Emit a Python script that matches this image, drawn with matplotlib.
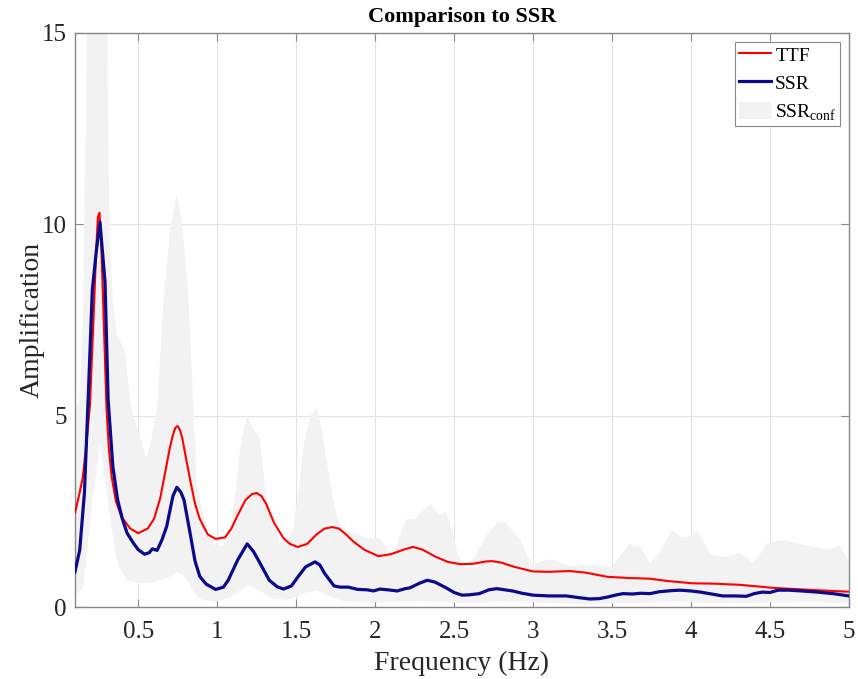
import numpy as np
import matplotlib.pyplot as plt
from matplotlib.patches import Patch

plt.rcParams['font.family'] = ['Liberation Serif', 'DejaVu Serif']
plt.rcParams['mathtext.fontset'] = 'custom'
plt.rcParams['mathtext.rm'] = 'Liberation Serif'

# TTF curve
ttf_f = [0.10, 0.13, 0.15, 0.18, 0.195, 0.22, 0.235, 0.245, 0.255, 0.265, 0.278, 0.30,
         0.315, 0.332, 0.36, 0.395, 0.45, 0.50, 0.56, 0.60, 0.64, 0.67, 0.70, 0.72,
         0.735, 0.75, 0.765, 0.78, 0.80, 0.83, 0.86, 0.89, 0.94, 0.99, 1.05, 1.09,
         1.13, 1.18, 1.22, 1.25, 1.28, 1.31, 1.36, 1.42, 1.46, 1.51, 1.57, 1.63,
         1.68, 1.73, 1.77, 1.81, 1.86, 1.93, 2.02, 2.10, 2.18, 2.24, 2.30, 2.38,
         2.46, 2.54, 2.62, 2.70, 2.74, 2.80, 2.88, 3.00, 3.10, 3.23, 3.33, 3.47,
         3.60, 3.74, 3.85, 4.01, 4.15, 4.31, 4.52, 4.75, 5.00]
ttf_a = [2.46, 3.0, 3.4, 4.6, 5.3, 7.8, 9.4, 10.2, 10.3, 9.6, 8.0, 5.15,
         4.1, 3.4, 2.75, 2.35, 2.05, 1.93, 2.05, 2.3, 2.85, 3.5, 4.15, 4.5,
         4.68, 4.73, 4.62, 4.4, 3.95, 3.3, 2.7, 2.3, 1.9, 1.78, 1.82, 2.05,
         2.4, 2.8, 2.95, 2.98, 2.9, 2.7, 2.2, 1.8, 1.65, 1.57, 1.65, 1.9,
         2.05, 2.09, 2.05, 1.92, 1.72, 1.5, 1.33, 1.38, 1.5, 1.57, 1.5, 1.32,
         1.18, 1.12, 1.13, 1.19, 1.2, 1.16, 1.05, 0.93, 0.92, 0.94, 0.9, 0.79,
         0.76, 0.74, 0.68, 0.62, 0.61, 0.58, 0.50, 0.45, 0.40]

# SSR curve
ssr_f = [0.10, 0.13, 0.16, 0.183, 0.21, 0.235, 0.258, 0.29, 0.31, 0.34, 0.37, 0.40,
         0.43, 0.47, 0.50, 0.54, 0.57, 0.59, 0.62, 0.65, 0.68, 0.72, 0.745, 0.77,
         0.79, 0.83, 0.86, 0.89, 0.93, 0.99, 1.04, 1.07, 1.13, 1.19, 1.23, 1.26,
         1.33, 1.38, 1.42, 1.47, 1.51, 1.56, 1.62, 1.65, 1.68, 1.74, 1.78, 1.83,
         1.89, 1.95, 1.99, 2.03, 2.08, 2.14, 2.19, 2.22, 2.28, 2.33, 2.38, 2.45,
         2.50, 2.55, 2.60, 2.66, 2.72, 2.77, 2.82, 2.87, 2.93, 3.00, 3.10, 3.21,
         3.30, 3.36, 3.42, 3.47, 3.53, 3.57, 3.63, 3.68, 3.74, 3.80, 3.88, 3.93,
         4.00, 4.06, 4.13, 4.20, 4.28, 4.35, 4.40, 4.45, 4.50, 4.55, 4.62, 4.70,
         4.80, 4.90, 5.00]
ssr_a = [0.92, 1.49, 3.0, 5.4, 8.3, 9.3, 10.06, 8.5, 5.4, 3.66, 2.8, 2.3,
         1.93, 1.67, 1.5, 1.38, 1.42, 1.52, 1.48, 1.75, 2.1, 2.9, 3.13, 3.0,
         2.8, 1.9, 1.2, 0.8, 0.6, 0.46, 0.52, 0.7, 1.23, 1.65, 1.45, 1.23,
         0.7, 0.53, 0.47, 0.55, 0.78, 1.05, 1.18, 1.1, 0.88, 0.55, 0.52, 0.52,
         0.46, 0.45, 0.42, 0.47, 0.45, 0.42, 0.48, 0.5, 0.62, 0.7, 0.65, 0.5,
         0.38, 0.31, 0.32, 0.35, 0.45, 0.48, 0.45, 0.42, 0.36, 0.31, 0.29, 0.29,
         0.24, 0.21, 0.22, 0.26, 0.32, 0.35, 0.34, 0.36, 0.35, 0.40, 0.43, 0.44,
         0.42, 0.39, 0.34, 0.29, 0.29, 0.28, 0.35, 0.39, 0.38, 0.44, 0.44, 0.42,
         0.39, 0.35, 0.29]

# SSR confidence band, upper edge
up_f = [0.10, 0.13, 0.15, 0.17, 0.18, 0.30, 0.32, 0.34, 0.36, 0.385, 0.42, 0.45,
        0.50, 0.55, 0.58, 0.62, 0.66, 0.70, 0.745, 0.78, 0.80, 0.82, 0.85, 0.87,
        0.91, 0.95, 0.99, 1.04, 1.08, 1.12, 1.15, 1.19, 1.22, 1.27, 1.31, 1.35,
        1.40, 1.44, 1.48, 1.52, 1.55, 1.59, 1.63, 1.66, 1.69, 1.73, 1.77, 1.82,
        1.88, 1.95, 2.03, 2.11, 2.16, 2.20, 2.25, 2.30, 2.35, 2.41, 2.45, 2.49,
        2.52, 2.58, 2.64, 2.71, 2.77, 2.81, 2.87, 2.92, 2.97, 3.00, 3.06, 3.12,
        3.18, 3.25, 3.31, 3.38, 3.44, 3.50, 3.56, 3.61, 3.65, 3.68, 3.74, 3.80,
        3.85, 3.88, 3.93, 3.97, 4.04, 4.08, 4.12, 4.20, 4.31, 4.35, 4.39, 4.44,
        4.48, 4.58, 4.64, 4.69, 4.75, 4.80, 4.87, 4.94, 5.00]
up_a = [5.0, 5.5, 7.5, 13.0, 16.0, 16.0, 9.5, 8.0, 7.2, 7.0, 6.6, 5.3,
        4.6, 3.9, 4.3, 5.2, 8.0, 9.8, 10.8, 10.0, 9.0, 7.9, 5.2, 3.2,
        2.4, 1.9, 1.6, 1.6, 2.0, 3.1, 4.3, 5.0, 4.7, 4.4, 2.9, 2.2,
        1.7, 1.7, 2.0, 3.2, 4.3, 5.0, 5.2, 4.7, 3.9, 2.9, 2.2, 2.0,
        1.9, 1.8, 1.8, 1.3, 1.9, 2.3, 2.3, 2.5, 2.7, 2.4, 2.5, 2.0,
        1.4, 1.0, 1.4, 1.9, 2.2, 2.25, 2.0, 1.75, 1.3, 1.1, 1.2, 1.25,
        1.15, 1.05, 1.1, 1.1, 1.05, 1.05, 1.4, 1.65, 1.6, 1.57, 1.15, 1.4,
        1.8, 2.0, 1.85, 1.8, 2.0, 1.7, 1.4, 1.3, 1.4, 1.3, 1.15, 1.4,
        1.67, 1.75, 1.7, 1.65, 1.6, 1.55, 1.5, 1.6, 1.2]

# SSR confidence band, lower edge
lo_f = [0.10, 0.15, 0.18, 0.20, 0.26, 0.30, 0.32, 0.36, 0.38, 0.43, 0.50, 0.60,
        0.70, 0.74, 0.78, 0.81, 0.85, 0.90, 0.99, 1.08, 1.15, 1.20, 1.26, 1.33,
        1.44, 1.55, 1.63, 1.70, 1.80, 1.88, 2.00, 2.30, 2.60, 2.80, 3.00, 3.30,
        3.60, 3.90, 4.20, 4.50, 4.80, 5.00]
lo_a = [0.3, 0.5, 1.5, 2.5, 4.3, 3.0, 2.4, 1.3, 1.05, 0.7, 0.62, 0.65,
        0.78, 0.92, 0.85, 0.7, 0.4, 0.2, 0.13, 0.25, 0.45, 0.57, 0.45, 0.25,
        0.18, 0.35, 0.44, 0.3, 0.15, 0.13, 0.12, 0.15, 0.1, 0.14, 0.12, 0.08,
        0.1, 0.14, 0.1, 0.12, 0.13, 0.1]

fig = plt.figure(figsize=(8.58, 6.79), dpi=100)
ax = fig.add_axes([0.0874, 0.106, 0.9021, 0.8454])

band_col = '#f2f2f2'
ax.fill(np.concatenate([up_f, lo_f[::-1]]), np.concatenate([up_a, lo_a[::-1]]),
        color=band_col, lw=0, zorder=1)
ax.plot(ttf_f, ttf_a, color='#ff0000', lw=1.5, zorder=3, label='TTF')
ax.plot(ssr_f, ssr_a, color='#0a0a8a', lw=2.3, zorder=3, label='SSR')

ax.set_xlim(0.1, 5)
ax.set_ylim(0, 15)
ax.set_xticks(np.arange(0.5, 5.01, 0.5))
ax.set_xticklabels(['0.5', '1', '1.5', '2', '2.5', '3', '3.5', '4', '4.5', '5'])
ax.set_yticks([0, 5, 10, 15])
ax.grid(True, color='#e3e3e3', lw=0.8, zorder=0)
ax.set_axisbelow(True)
for s in ax.spines.values():
    s.set_color('#888888')
    s.set_linewidth(1.0)
ax.tick_params(direction='in', length=6, width=0.8, color='#888888',
               labelsize=18, top=True, right=True, labelcolor='#262626')
ax.tick_params(axis='x', pad=10)
ax.tick_params(axis='y', pad=6)

ax.set_xlabel('Frequency (Hz)', fontsize=20, color='#262626', labelpad=6)
ax.set_ylabel('Amplification', fontsize=20, color='#262626', labelpad=-2)
ax.set_title('Comparison to SSR', fontsize=16, fontweight='bold', pad=8)

handles = ax.get_legend_handles_labels()[0]
handles.append(Patch(facecolor=band_col, edgecolor='none'))
leg = ax.legend(handles, ['TTF', 'SSR', r'SSR$_{\mathrm{conf}}$'], loc='upper right',
                fontsize=14, frameon=True, fancybox=False, framealpha=1,
                edgecolor='#888888', borderaxespad=0.45, handlelength=1.65,
                handleheight=1.0, handletextpad=0.2, labelspacing=0.45,
                borderpad=0.2)
leg.get_frame().set_linewidth(0.8)

fig.savefig('out.png', dpi=100)
